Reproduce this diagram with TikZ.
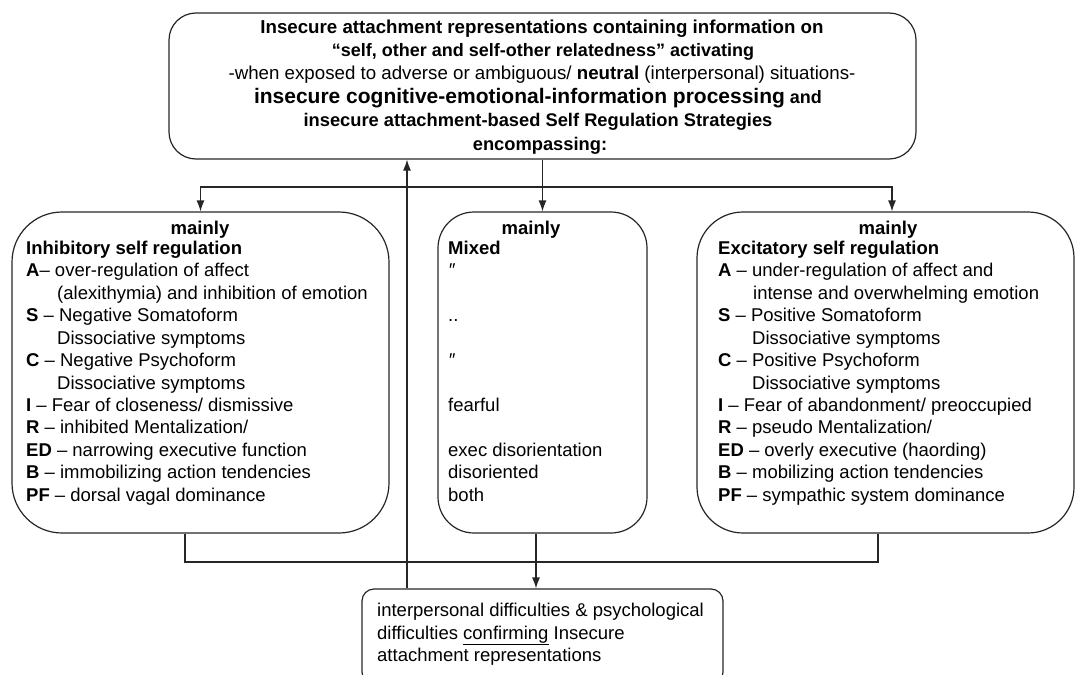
\documentclass[tikz,border=0pt]{standalone}
\usepackage{fontspec}
\setmainfont{Liberation Sans}
\usetikzlibrary{arrows.meta}
\def\panel{\node[draw=black!85, line width=1.2pt, inner sep=0pt]}
\def\drawlink{\draw[black!85, line width=1.2pt, -{Latex[length=11pt,width=8pt]}]}
\def\drawwire{\draw[black!85, line width=1.2pt]}
\def\headnode{\node[anchor=base]}
\def\ditto{\textit{″}}

\begin{document}
\begin{tikzpicture}[x=1pt,y=-1pt,inner sep=0pt,font=\fontsize{18.5}{22.4}\selectfont]
\useasboundingbox (0,0) rectangle (1075,674);

% -------- the boxes ---------
\panel[rounded corners=27pt, minimum width=747pt, minimum height=146pt] (top) at (542.5,86) {};
\panel[rounded corners=50pt, minimum width=377pt, minimum height=321pt] (inhib) at (200.5,372.5) {};
\panel[rounded corners=36pt, minimum width=209pt, minimum height=321pt] (mixed) at (542.5,372.5) {};
\panel[rounded corners=46pt, minimum width=377pt, minimum height=321pt] (excit) at (885.5,372.5) {};
\panel[rounded corners=12pt, minimum width=361pt, minimum height=95pt] (result) at (542.5,636.5) {}; % cut by the page

% -------- top box text ---------
\headnode[font=\bfseries\fontsize{18.7}{18}\selectfont] (head1) at (542,34) {Insecure attachment representations containing information on};
\headnode[font=\bfseries\fontsize{18}{18}\selectfont] (head2) at (543,57) {“self, other and self-other relatedness” activating};
\headnode[font=\fontsize{18.7}{18}\selectfont] (head3) at (542,80) {-when exposed to adverse or ambiguous/ \textbf{neutral} (interpersonal) situations-};
\headnode[font=\bfseries\fontsize{18}{18}\selectfont] (head4) at (538,104) {{\fontsize{21}{21}\selectfont insecure cognitive-emotional-information processing} and};
\headnode[font=\bfseries\fontsize{18.3}{18}\selectfont] (head5) at (538,127) {insecure attachment-based Self Regulation Strategies};
\headnode[font=\bfseries\fontsize{18.3}{18}\selectfont] (head6) at (540,150) {encompassing:};

% -------- split to the three boxes ---------
\coordinate (split) at (542.5,187);
\drawwire (top.south) -- (split);
\drawlink (split) -| (inhib.north);
\drawlink (split) -- (mixed.north);
\drawlink (split) -| ([xshift=6.5pt]excit.north);

% -------- column texts ---------
\headnode[font=\fontsize{18.5}{22.4}\selectfont\bfseries] (inhmain) at (200,234) {mainly};
\headnode[font=\fontsize{18.5}{22.4}\selectfont\bfseries] (mixmain) at (531,234) {mainly};
\headnode[font=\fontsize{18.5}{22.4}\selectfont\bfseries] (excmain) at (888,234) {mainly};

\foreach \dx/\txt [count=\i] in {0/{\textbf{Inhibitory self regulation}},
    0/{\textbf{A}-- over-regulation of affect}, 31/{(alexithymia) and inhibition of emotion},
    0/{\textbf{S} -- Negative Somatoform}, 31/{Dissociative symptoms},
    0/{\textbf{C} -- Negative Psychoform}, 31/{Dissociative symptoms},
    0/{\textbf{I} -- Fear of closeness/ dismissive}, 0/{\textbf{R} -- inhibited Mentalization/},
    0/{\textbf{ED} -- narrowing executive function}, 0/{\textbf{B} -- immobilizing action tendencies},
    0/{\textbf{PF} -- dorsal vagal dominance}}
  \node[anchor=base west] (inh\i) at (26+\dx,254.3+22.45*\i-22.45) {\txt};

\foreach \r/\txt in {1/{\textbf{Mixed}}, 2/{\ditto}, 4/{..}, 6/{\ditto}, 8/{fearful},
    10/{exec disorientation}, 11/{disoriented}, 12/{both}}
  \node[anchor=base west] (mix\r) at (448,254.3+22.45*\r-22.45) {\txt};

\foreach \dx/\txt [count=\i] in {0/{\textbf{Excitatory self regulation}},
    0/{\textbf{A} -- under-regulation of affect and}, 35/{intense and overwhelming emotion},
    0/{\textbf{S} -- Positive Somatoform}, 34/{Dissociative symptoms},
    0/{\textbf{C} -- Positive Psychoform}, 34/{Dissociative symptoms},
    0/{\textbf{I} -- Fear of abandonment/ preoccupied}, 0/{\textbf{R} -- pseudo Mentalization/},
    0/{\textbf{ED} -- overly executive (haording)}, 0/{\textbf{B} -- mobilizing action tendencies},
    0/{\textbf{PF} -- sympathic system dominance}}
  \node[anchor=base west] (exc\i) at (718+\dx,254.3+22.45*\i-22.45) {\txt};

% -------- back to the bottom box and up again ---------
\coordinate (lfoot) at ([xshift=-15.5pt]inhib.south);
\coordinate (rfoot) at ([xshift=-7.5pt]excit.south);
\coordinate (join) at (0,562);
\drawwire (lfoot) -- (lfoot |- join) -- (rfoot |- join) -- (rfoot);
\drawlink ([xshift=-6.5pt]mixed.south) -- ([xshift=-6.5pt]result.north);
\coordinate (back) at (407,0);
\drawlink (result.north -| back) -- (top.south -| back);

\foreach \txt [count=\i] in {{interpersonal difficulties \& psychological},
    {difficulties \underline{confirming} Insecure}, {attachment representations}}
  \node[anchor=base west] (res\i) at (377,616.5+22.5*\i-22.5) {\txt};
\end{tikzpicture}
\end{document}
